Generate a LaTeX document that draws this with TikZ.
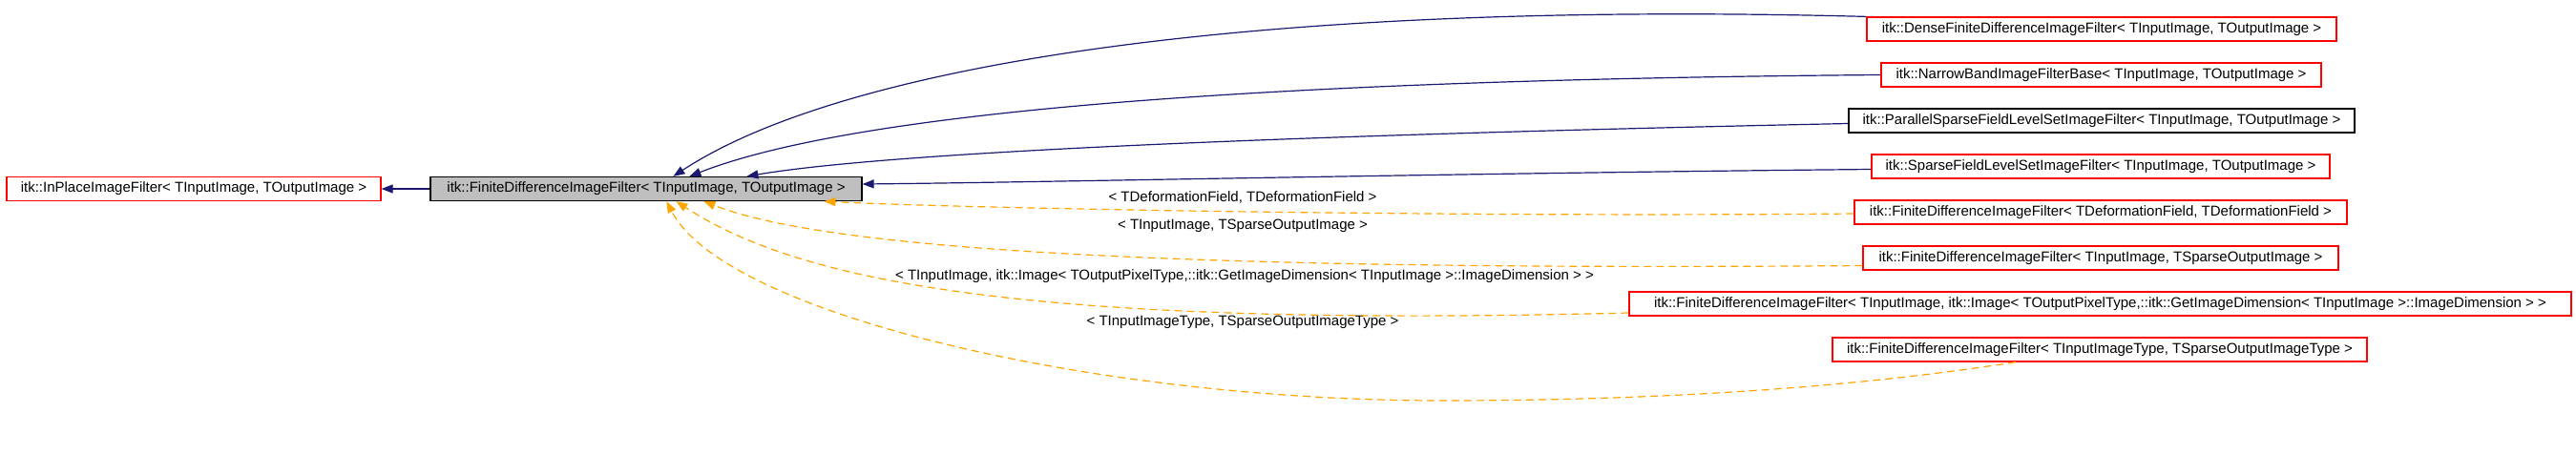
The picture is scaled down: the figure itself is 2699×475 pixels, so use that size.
\documentclass[tikz,border=0pt]{standalone}
\usepackage{fontspec}
\setmainfont{Liberation Sans}
\usetikzlibrary{arrows.meta}
\definecolor{edgeblue}{HTML}{191970}
\definecolor{edgeorange}{HTML}{FFA500}
\definecolor{boxgray}{HTML}{BFBFBF}
\begin{document}
\begin{tikzpicture}[x=1pt,y=-1pt,
  box/.style={draw=red,line width=1.2pt,inner sep=0pt,minimum height=25pt,
    font=\fontsize{15}{18}\selectfont,text=black},
  mainbox/.style={box,draw=black,fill=boxgray},
  blackbox/.style={box,draw=black},
  bedge/.style={draw=edgeblue,line width=1.2pt,-{Triangle[length=12pt,width=9pt]}},
  oedge/.style={draw=edgeorange,line width=1.2pt,dash pattern=on 8pt off 5pt,
    -{Triangle[length=12pt,width=9pt]}},
  elabel/.style={inner sep=0pt,font=\fontsize{15}{18}\selectfont,text=black}]
\useasboundingbox (0,0) rectangle (2699,475);
% nodes
\node[box,minimum width=392pt] (inplace) at (203,198) {itk::InPlaceImageFilter< TInputImage, TOutputImage >};
\node[mainbox,minimum width=452pt] (fdif) at (677,198) {itk::FiniteDifferenceImageFilter< TInputImage, TOutputImage >};
\node[box,minimum width=492pt] (dense) at (2202,30.5) {itk::DenseFiniteDifferenceImageFilter< TInputImage, TOutputImage >};
\node[box,minimum width=461pt] (narrow) at (2201.5,78.5) {itk::NarrowBandImageFilterBase< TInputImage, TOutputImage >};
\node[blackbox,minimum width=530pt] (parallel) at (2202,126.5) {itk::ParallelSparseFieldLevelSetImageFilter< TInputImage, TOutputImage >};
\node[box,minimum width=480pt] (sparse) at (2201,174.5) {itk::SparseFieldLevelSetImageFilter< TInputImage, TOutputImage >};
\node[box,minimum width=516pt] (deform) at (2201,222.5) {itk::FiniteDifferenceImageFilter< TDeformationField, TDeformationField >};
\node[box,minimum width=498pt] (tsparse) at (2201,270.5) {itk::FiniteDifferenceImageFilter< TInputImage, TSparseOutputImage >};
\node[box,minimum width=987pt] (itkimage) at (2200.5,318.5) {itk::FiniteDifferenceImageFilter< TInputImage, itk::Image< TOutputPixelType,::itk::GetImageDimension< TInputImage >::ImageDimension > >};
\node[box,minimum width=560pt] (inputtype) at (2200,366.5) {itk::FiniteDifferenceImageFilter< TInputImageType, TSparseOutputImageType >};
% labels
\node[elabel] (ldeform) at (1302,207) {< TDeformationField, TDeformationField >};
\node[elabel] (ltsparse) at (1302,237) {< TInputImage, TSparseOutputImage >};
\node[elabel] (litkimage) at (1304,290) {< TInputImage, itk::Image< TOutputPixelType,::itk::GetImageDimension< TInputImage >::ImageDimension > >};
\node[elabel] (linputtype) at (1302,338) {< TInputImageType, TSparseOutputImageType >};
% blue edges
\draw[bedge] (fdif.west) -- (inplace.east);
\draw[bedge] (dense.north west) .. controls (1300,0) and (880,70) .. ([xshift=255pt]fdif.north west);
\draw[bedge] (narrow.west) .. controls (1150,85) and (850,135) .. ([xshift=272pt]fdif.north west);
\draw[bedge] ([yshift=-3pt]parallel.west) .. controls (1200,145) and (900,165) .. ([xshift=332pt]fdif.north west);
\draw[bedge] ([yshift=-3pt]sparse.west) .. controls (1500,182) and (1100,191) .. ([yshift=5pt]fdif.east);
% orange edges
\draw[oedge] ([yshift=-1.5pt]deform.west) .. controls (1500,228) and (1000,218) .. ([xshift=413pt]fdif.south west);
\draw[oedge] ([yshift=-8pt]tsparse.west) .. controls (1150,285) and (850,255) .. ([xshift=287pt]fdif.south west);
\draw[oedge] ([yshift=-9.5pt]itkimage.west) .. controls (1050,345) and (830,290) .. ([xshift=258pt]fdif.south west);
\draw[oedge] ([xshift=-88pt]inputtype.south) .. controls (1950,405) and (1750,420) .. (1511,420)
  .. controls (1150,420) and (760,330) .. ([xshift=248pt]fdif.south west);
\end{tikzpicture}
\end{document}
